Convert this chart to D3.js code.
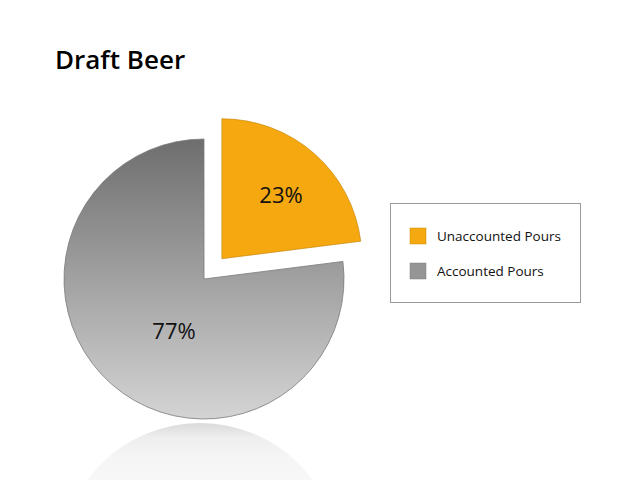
<!DOCTYPE html>
<html><head><meta charset="utf-8">
<script src="https://cdn.jsdelivr.net/npm/d3@7"></script>
<style>html,body{margin:0;padding:0;background:#fff;}svg{display:block;}</style>
</head><body>
<svg id="chart" width="640" height="480"></svg>
<script>
const categories = ["Unaccounted Pours", "Accounted Pours"];
const values = [23, 77];
const labels = ["23%", "77%"];
const colors = ["#F5A80F", "#9a9a9a"];

const svg = d3.select("#chart");
const font = "'Open Sans', 'Noto Sans', sans-serif";
const cx = 204, cy = 279, R = 140, explode = 27;
const labelPos = [[281, 194], [174, 330]];

const defs = svg.append("defs");
const g1 = defs.append("linearGradient").attr("id", "grayGrad")
  .attr("x1", 0).attr("y1", 0).attr("x2", 0).attr("y2", 1);
g1.append("stop").attr("offset", "0%").attr("stop-color", "#6e6e6e");
g1.append("stop").attr("offset", "100%").attr("stop-color", "#d4d4d4");

const g2 = defs.append("linearGradient").attr("id", "reflGrad")
  .attr("gradientUnits", "userSpaceOnUse")
  .attr("x1", 0).attr("y1", -R).attr("x2", 0).attr("y2", -R + 58);
g2.append("stop").attr("offset", "0%").attr("stop-color", "#dadada");
g2.append("stop").attr("offset", "25%").attr("stop-color", "#eeeeee");
g2.append("stop").attr("offset", "60%").attr("stop-color", "#f5f5f5");
g2.append("stop").attr("offset", "100%").attr("stop-color", "#f8f8f8");

// title
svg.append("text").attr("x", 55).attr("y", 69)
  .attr("font-family", font).attr("font-weight", 600).attr("font-size", 26)
  .attr("fill", "#000").text("Draft Beer");

const pie = d3.pie().sort(null).value(d => d);
const arcs = pie(values);
const arc = d3.arc().innerRadius(0).outerRadius(R);

// reflection
svg.append("g").attr("transform", `translate(${cx - 4},${423 + R})`)
  .append("path").attr("d", arc({startAngle: 0, endAngle: 2 * Math.PI}))
  .attr("fill", "url(#reflGrad)");

const pg = svg.append("g").attr("transform", `translate(${cx},${cy})`);
const strokes = ["#c08005", "#7a7a7a"];
arcs.forEach((a, i) => {
  const mid = (a.startAngle + a.endAngle) / 2;
  const off = i === 0 ? explode : 0;
  const dx = Math.sin(mid) * off, dy = -Math.cos(mid) * off;
  pg.append("g").attr("transform", `translate(${dx},${dy})`)
    .append("path").attr("d", arc(a))
    .attr("fill", i === 0 ? colors[0] : "url(#grayGrad)")
    .attr("stroke", strokes[i]).attr("stroke-width", i === 0 ? 0.6 : 0.8);
});

// labels
arcs.forEach((a, i) => {
  svg.append("text").attr("x", labelPos[i][0]).attr("y", labelPos[i][1])
    .attr("text-anchor", "middle").attr("dominant-baseline", "central")
    .attr("font-family", font).attr("font-size", 22).attr("fill", "#111")
    .text(labels[i]);
});

// legend
const lg = svg.append("g");
lg.append("rect").attr("x", 390.5).attr("y", 203.5).attr("width", 190).attr("height", 99)
  .attr("fill", "#fff").attr("stroke", "#9a9a9a").attr("stroke-width", 1);
const legColors = [colors[0], "#959595"];
categories.forEach((c, i) => {
  const y = 228 + i * 35;
  lg.append("rect").attr("x", 410).attr("y", y).attr("width", 16).attr("height", 16)
    .attr("fill", legColors[i]).attr("stroke", i === 0 ? "#c78a05" : "#808080").attr("stroke-width", 0.5);
  lg.append("text").attr("x", 437).attr("y", y + 8)
    .attr("dominant-baseline", "central")
    .attr("font-family", font).attr("font-size", 13.5).attr("fill", "#111").text(c);
});
</script>
</body></html>
